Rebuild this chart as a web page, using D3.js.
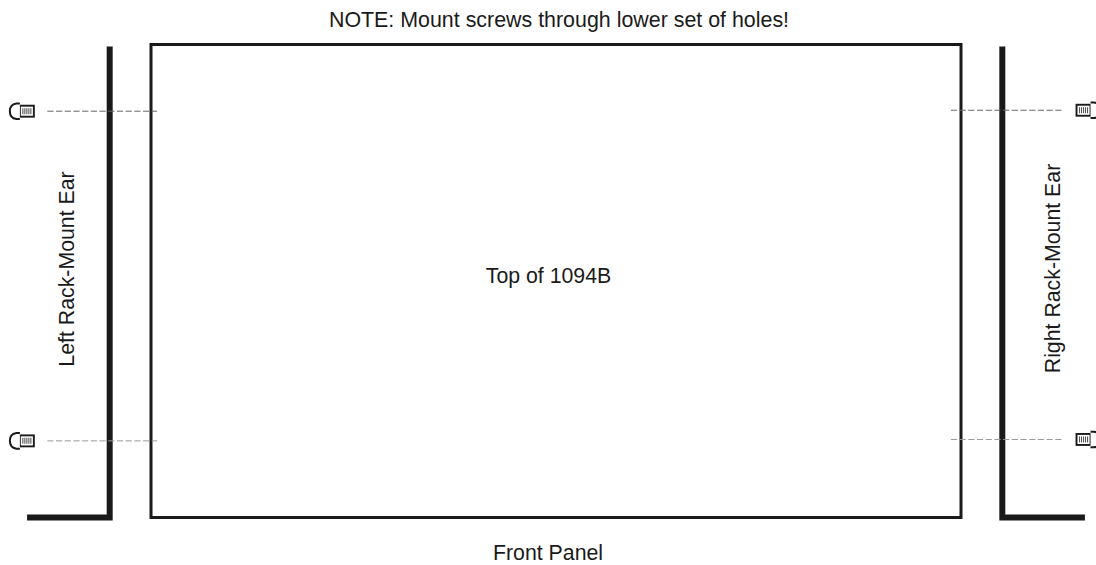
<!DOCTYPE html>
<html>
<head>
<meta charset="utf-8">
<script src="https://cdn.jsdelivr.net/npm/d3@7"></script>
<style>
html, body { margin: 0; padding: 0; background: #fff; overflow: hidden; }
text { font-family: "Liberation Sans", sans-serif; font-size: 21.3px; fill: #1a1a1a; }
</style>
</head>
<body>
<div id="mainDiv"></div>
<script>
'use strict';

// panel is measured in percent of its own width and height
var titleLabel = "NOTE: Mount screws through lower set of holes!";
var panelLabel = "Top of 1094B";
var frontLabel = "Front Panel";
var earSides = ["left", "right"];
var earLabels = ["Left Rack-Mount Ear", "Right Rack-Mount Ear"];
var holeRowsLeft = [14.1, 83.8];
var holeRowsRight = [13.9, 83.5];
var threadTicks = [0, 1, 2, 3, 4];

var myApp = {};
var W = 1096, H = 565;
var ink = "#1a1a1a";

myApp.x = d3.scaleLinear().domain([0, 100]).range([151, 961]);
myApp.y = d3.scaleLinear().domain([0, 100]).range([44.5, 517.5]);

myApp.drawPanel = function (svg)
{
    svg.append("rect")
        .attr("x", myApp.x(0))
        .attr("y", myApp.y(0))
        .attr("width", myApp.x(100) - myApp.x(0))
        .attr("height", myApp.y(100) - myApp.y(0))
        .attr("fill", "none")
        .attr("stroke", ink)
        .attr("stroke-width", 3);
}

myApp.drawEar = function (svg, side)
{
    var left = side === "left";
    var wall = left ? myApp.x(-5.1) : myApp.x(105.1);
    var foot = left ? myApp.x(-15.3) : myApp.x(115.3);
    var line = d3.line();
    svg.append("path")
        .attr("d", line([[wall, 46.5], [wall, myApp.y(100)], [foot, myApp.y(100)]]))
        .attr("fill", "none")
        .attr("stroke", ink)
        .attr("stroke-width", 6)
        .attr("stroke-linejoin", "miter");
}

myApp.drawScrew = function (svg, side, row)
{
    var left = side === "left";
    var py = myApp.y(row);
    var dir = left ? -1 : 1;
    // anchor is the shank end nearest the panel
    var ax = left ? myApp.x(-14.4) : myApp.x(114.2);
    var g = svg.append("g")
        .attr("transform", "translate(" + ax + "," + py + ") scale(" + dir + ",1)");

    g.append("rect")
        .attr("x", 0.5).attr("y", -5.5).attr("width", 14).attr("height", 11)
        .attr("fill", "#fff").attr("stroke", ink).attr("stroke-width", 1.9);
    g.append("path")
        .attr("d", "M14.5,-7.8 H18 Q24.5,-7 24.5,0 Q24.5,7 18,7.8 H14.5")
        .attr("fill", "#fff").attr("stroke", ink).attr("stroke-width", 2);

    g.selectAll("line.thread")
        .data(threadTicks)
        .enter()
        .append("line")
            .attr("class", "thread")
            .attr("x1", function (d) { return 3.5 + d * 2; })
            .attr("x2", function (d) { return 3.5 + d * 2; })
            .attr("y1", -3)
            .attr("y2", 3)
            .attr("stroke", "#555")
            .attr("stroke-width", 1.1);
}

myApp.drawGuide = function (svg, side, row, color)
{
    var left = side === "left";
    svg.append("line")
        .attr("x1", left ? myApp.x(-12.8) : myApp.x(98.75))
        .attr("x2", left ? myApp.x(0.75) : myApp.x(112.4))
        .attr("y1", myApp.y(row))
        .attr("y2", myApp.y(row))
        .attr("stroke", color)
        .attr("stroke-width", 1)
        .attr("stroke-dasharray", "6.2,2.5");
}

myApp.drawText = function (svg)
{
    svg.append("text").text(titleLabel)
        .style("font-size", "21.4px")
        .attr("x", 559).attr("y", 26.5).attr("text-anchor", "middle");
    svg.append("text").text(panelLabel)
        .attr("x", 548.5).attr("y", 282.5).attr("text-anchor", "middle");
    svg.append("text").text(frontLabel)
        .attr("x", 548).attr("y", 560).attr("text-anchor", "middle");

    svg.selectAll("text.ear")
        .data(earLabels)
        .enter()
        .append("text")
            .attr("class", "ear")
            .text(function (d) { return d; })
            .attr("text-anchor", "middle")
            .attr("transform", function (d, i) {
                return i === 0 ? "translate(74,269) rotate(-90)" : "translate(1060,268.5) rotate(-90)";
            });
}

myApp.run = function ()
{
    var svg = d3.select("#mainDiv").append("svg")
        .attr("width", W)
        .attr("height", H)
        .style("display", "block");

    myApp.drawPanel(svg);
    earSides.forEach(function (s) { myApp.drawEar(svg, s); });
    holeRowsLeft.forEach(function (r, i) {
        myApp.drawGuide(svg, "left", r, i === 0 ? "#666" : "#999");
        myApp.drawScrew(svg, "left", r);
    });
    holeRowsRight.forEach(function (r, i) {
        myApp.drawGuide(svg, "right", r, i === 0 ? "#666" : "#999");
        myApp.drawScrew(svg, "right", r);
    });
    myApp.drawText(svg);
}

window.onload = myApp.run;
</script>
</body>
</html>
